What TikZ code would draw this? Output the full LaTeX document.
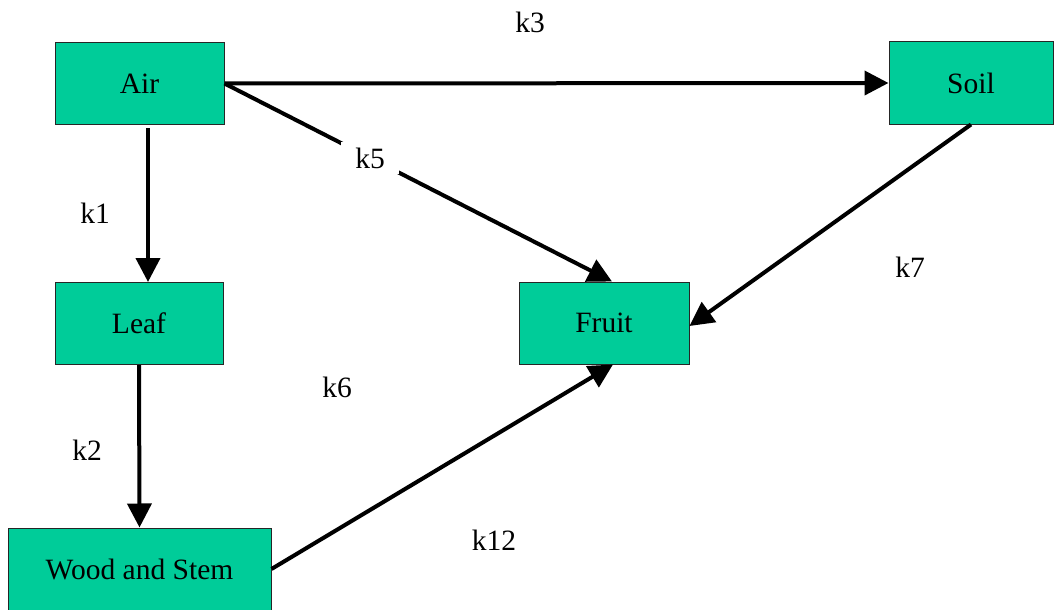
\documentclass[tikz,border=0pt]{standalone}
\usepackage{fontspec}
\setmainfont{Liberation Serif}
\usetikzlibrary{arrows.meta}
\definecolor{boxfill}{HTML}{00CC99}
\begin{document}
\begin{tikzpicture}[x=1pt,y=-1pt,
  box/.style={draw=black!85,line width=1pt,fill=boxfill,inner sep=0pt,
    minimum height=82pt,font=\fontsize{29.5}{33}\selectfont},
  conn/.style={line width=4pt,-{Triangle[length=24pt,width=24pt]}},
  lbl/.style={font=\fontsize{29.5}{33}\selectfont,inner sep=2pt}]
\useasboundingbox (0,0) rectangle (1055,610);
\node[box,minimum width=169pt] (air) at (139.5,83.5) {Air};
\node[box,minimum width=164pt] (soil) at (971,83) {Soil};
\node[box,minimum width=168pt] (leaf) at (139,323.5) {Leaf};
\node[box,minimum width=170pt] (fruit) at (604,323) {Fruit};
\node[box,minimum width=263pt] (wood) at (139.5,569) {Wood and Stem};

\draw[conn] (air.east) -- (soil.west);
\draw[conn,shorten <=3pt] ([xshift=8.5pt]air.south) -- ([xshift=9pt]leaf.north);
\draw[conn] (air.east) -- ([xshift=8pt]fruit.north)
  node[lbl,pos=0.376,fill=white,inner xsep=14pt,inner ysep=6pt] (k5) {k5};
\draw[conn] (soil.south) -- ([yshift=-3pt]fruit.east);
\draw[conn] (leaf.south) -- (wood.north);
\draw[conn] (wood.east) -- ([xshift=9pt]fruit.south);

\node[lbl] (k3) at (530,22) {k3};
\node[lbl] (k1) at (95,213) {k1};
\node[lbl] (k7) at (910,267) {k7};
\node[lbl] (k6) at (337,387) {k6};
\node[lbl] (k2) at (87,450) {k2};
\node[lbl] (k12) at (494,540) {k12};
\end{tikzpicture}
\end{document}
